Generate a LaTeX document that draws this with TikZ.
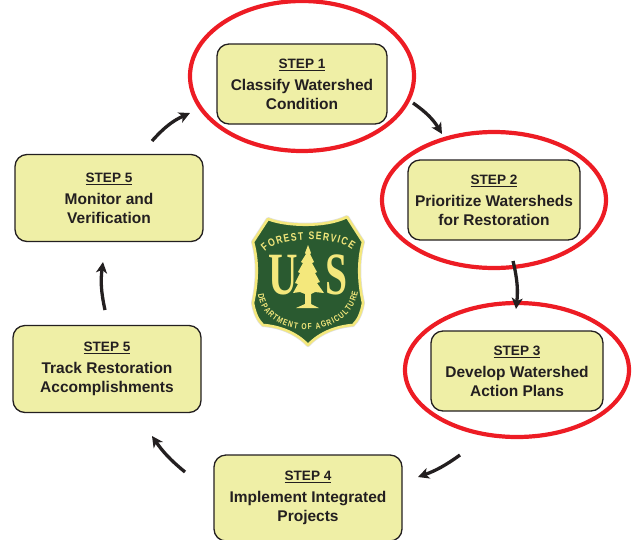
\documentclass[tikz,border=0pt]{standalone}
\usepackage{fontspec}
\setmainfont{Liberation Sans}
\newfontfamily\shieldserif{Liberation Serif}
\newfontfamily\shieldnarrow[FakeStretch=0.78]{Liberation Sans}
\usetikzlibrary{arrows.meta,decorations.text,shapes.geometric}
\definecolor{boxfill}{HTML}{EFEFA6}
\definecolor{inkdark}{HTML}{231F20}
\definecolor{ringred}{HTML}{ED1C24}
\definecolor{shieldgreen}{HTML}{2A5A30}
\definecolor{shieldgold}{HTML}{F4E87C}
\tikzset{
  stepbox/.style={draw=inkdark,line width=1.3pt,fill=boxfill,rounded corners=12pt,
    inner sep=0pt,align=center,text=inkdark,font=\fontsize{15.5}{18.6}\selectfont\bfseries},
  ring/.style={draw=ringred,line width=4.2pt,ellipse,inner sep=0pt},
  flow/.style={line width=3.3pt,draw=inkdark,-{Stealth[length=11pt,width=11pt,inset=3pt]}},
  shieldtext/.style 2 args={decoration={text along path,text align={fit to path},
    text={|\fontsize{#1}{#1}\selectfont\shieldnarrow\bfseries\color{shieldgold}|#2}},decorate},
  shieldletter/.style={text=shieldgold,inner sep=0pt,transform shape,
    font=\fontsize{60}{60}\selectfont\shieldserif\bfseries},
}
\newcommand{\steptitle}[1]{{\fontsize{13.6}{16}\selectfont\underline{STEP #1}}\\[3.5pt]}
\begin{document}
\begin{tikzpicture}[x=1pt,y=-1pt]
  \useasboundingbox (0,0) rectangle (632,539);
  % red rings
  \node[ring,minimum width=224pt,minimum height=150pt] (ringA) at (302,76) {};
  \node[ring,minimum width=224pt,minimum height=136pt] (ringB) at (494,200) {};
  \node[ring,minimum width=224pt,minimum height=134pt] (ringC) at (517,370) {};
  % boxes
  \node[stepbox,minimum width=170pt,minimum height=80pt] (classify) at (302,84)
    {\steptitle{1}Classify Watershed\\Condition};
  \node[stepbox,minimum width=172pt,minimum height=80pt] (prioritize) at (494,200)
    {\steptitle{2}Prioritize Watersheds\\for Restoration};
  \node[stepbox,minimum width=172pt,minimum height=80pt] (develop) at (517,371)
    {\steptitle{3}Develop Watershed\\Action Plans};
  \node[stepbox,minimum width=188pt,minimum height=86pt] (implement) at (308,498)
    {\steptitle{4}Implement Integrated\\Projects};
  \node[stepbox,minimum width=188pt,minimum height=87pt] (track) at (107,369)
    {\steptitle{5}Track Restoration\\Accomplishments};
  \node[stepbox,minimum width=188pt,minimum height=87pt] (monitor) at (109,198)
    {\steptitle{5}Monitor and\\Verification};
  % arrow ends
  \coordinate (a1) at (413,103);  \coordinate (a2) at (442,134);
  \coordinate (b1) at (513,261);  \coordinate (b2) at (516,309);
  \coordinate (c1) at (460,455);  \coordinate (c2) at (418,477);
  \coordinate (d1) at (185,472);  \coordinate (d2) at (152,436);
  \coordinate (e1) at (105,310);  \coordinate (e2) at (103,262);
  \coordinate (f1) at (152,141);  \coordinate (f2) at (190,113);
  \draw[flow] (a1) to[bend left=12] (a2);
  \draw[flow] (b1) to[bend left=10] (b2);
  \draw[flow] (c1) to[bend left=8] (c2);
  \draw[flow] (d1) to[bend left=8] (d2);
  \draw[flow] (e1) to[bend left=10] (e2);
  \draw[flow] (f1) to[bend left=12] (f2);
  % shield
  \draw[draw=gray!25,line width=4pt,line join=round,fill=shieldgreen]
    (268,219) .. controls (285,226) and (325,228) .. (347,217) -- (363,242)
    .. controls (358,260) and (358,280) .. (363,303)
    .. controls (361,314) and (358,320) .. (353,325)
    .. controls (338,326) and (320,332) .. (308,345)
    .. controls (296,332) and (278,326) .. (263,325)
    .. controls (258,320) and (255,314) .. (253,303)
    .. controls (258,280) and (258,260) .. (253,242) -- cycle;
  \draw[draw=shieldgold,line width=2.6pt,line join=round,fill=shieldgreen]
    (268,219) .. controls (285,226) and (325,228) .. (347,217) -- (363,242)
    .. controls (358,260) and (358,280) .. (363,303)
    .. controls (361,314) and (358,320) .. (353,325)
    .. controls (338,326) and (320,332) .. (308,345)
    .. controls (296,332) and (278,326) .. (263,325)
    .. controls (258,320) and (255,314) .. (253,303)
    .. controls (258,280) and (258,260) .. (253,242) -- cycle;
  \path[shieldtext={11}{FOREST SERVICE}]
    (265,252) .. controls (280,236) and (335,236) .. (352,250);
  \path[shieldtext={8.6}{DEPARTMENT OF AGRICULTURE}]
    (258,294) .. controls (264,342) and (350,342) .. (358,292);
  \node[shieldletter,xscale=.68] (letterU) at (283,275) {U};
  \node[shieldletter,xscale=.66] (letterS) at (337,275) {S};
  \fill[shieldgold] (308,245) -- (311,253) -- (310,254) -- (314,262) -- (312,263)
    -- (317,272) -- (315,273) -- (320,282) -- (317,283) -- (324,293) -- (315,292)
    -- (311,294) -- (311,304) -- (319,308) -- (296,308) -- (305,304) -- (305,294)
    -- (300,292) -- (293,293) -- (298,284) -- (295,283) -- (300,273) -- (298,272)
    -- (303,263) -- (301,262) -- (306,254) -- (305,253) -- cycle;
\end{tikzpicture}
\end{document}
